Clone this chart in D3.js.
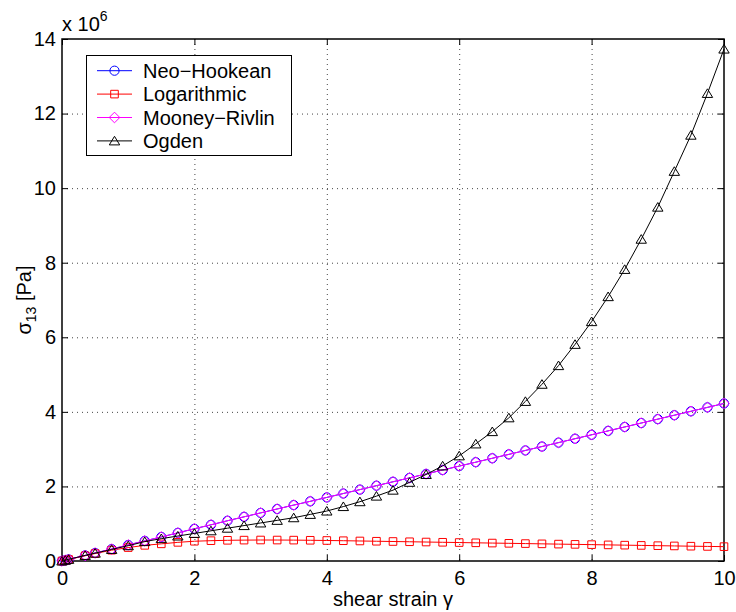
<!DOCTYPE html>
<html>
<head>
<meta charset="utf-8">
<script src="https://cdn.jsdelivr.net/npm/d3@7"></script>
<style>
  body { margin: 0; background: #fff; }
  text { font-family: "Liberation Sans", Arial, Helvetica, sans-serif; }
</style>
</head>
<body>
<svg id="chart" width="736" height="612"></svg>
<script>
// shear strain gamma (x) and sigma_13 in units of 1e6 Pa
var strain = [0, 0.05, 0.1, 0.35, 0.5, 0.75, 1, 1.25, 1.5, 1.75, 2, 2.25, 2.5, 2.75, 3, 3.25, 3.5, 3.75,
  4, 4.25, 4.5, 4.75, 5, 5.25, 5.5, 5.75, 6, 6.25, 6.5, 6.75, 7, 7.25, 7.5, 7.75, 8, 8.25, 8.5, 8.75,
  9, 9.25, 9.5, 9.75, 10];
var neoHookean = [0, 0.02, 0.043, 0.15, 0.215, 0.32, 0.43, 0.54, 0.645, 0.755, 0.865, 0.97, 1.08, 1.185,
  1.29, 1.395, 1.5, 1.6, 1.705, 1.81, 1.915, 2.02, 2.125, 2.23, 2.335, 2.44, 2.545, 2.65, 2.755, 2.86,
  2.965, 3.07, 3.175, 3.28, 3.385, 3.49, 3.595, 3.7, 3.805, 3.91, 4.015, 4.12, 4.225];
var logarithmic = [0, 0.02, 0.04, 0.14, 0.2, 0.29, 0.36, 0.42, 0.46, 0.5, 0.53, 0.545, 0.555, 0.56,
  0.563, 0.562, 0.56, 0.556, 0.55, 0.544, 0.537, 0.53, 0.523, 0.516, 0.509, 0.502, 0.495, 0.488, 0.481,
  0.474, 0.467, 0.46, 0.453, 0.446, 0.439, 0.432, 0.425, 0.418, 0.411, 0.404, 0.397, 0.391, 0.385];
var mooneyRivlin = [0, 0.02, 0.043, 0.15, 0.215, 0.32, 0.43, 0.54, 0.645, 0.755, 0.865, 0.97, 1.08, 1.185,
  1.29, 1.395, 1.5, 1.6, 1.705, 1.81, 1.915, 2.02, 2.125, 2.23, 2.335, 2.44, 2.545, 2.65, 2.755, 2.86,
  2.965, 3.07, 3.175, 3.28, 3.385, 3.49, 3.595, 3.7, 3.805, 3.91, 4.015, 4.12, 4.225];
var ogden = [0, 0.02, 0.045, 0.15, 0.21, 0.31, 0.41, 0.52, 0.6, 0.67, 0.74, 0.81, 0.88, 0.95, 1.02,
  1.09, 1.16, 1.25, 1.34, 1.46, 1.59, 1.74, 1.9, 2.11, 2.32, 2.55, 2.82, 3.14, 3.47, 3.84, 4.28, 4.74,
  5.24, 5.81, 6.42, 7.09, 7.82, 8.63, 9.49, 10.45, 11.42, 12.54, 13.73];

var xTicks = [0, 2, 4, 6, 8, 10];
var yTicks = [0, 2, 4, 6, 8, 10, 12, 14];

var series = [
  { name: 'Neo\u2212Hookean', values: neoHookean, color: '#0000ff', marker: 'circle' },
  { name: 'Logarithmic', values: logarithmic, color: '#ff0000', marker: 'square' },
  { name: 'Mooney\u2212Rivlin', values: mooneyRivlin, color: '#ff00ff', marker: 'diamond' },
  { name: 'Ogden', values: ogden, color: '#000000', marker: 'triangle' }
];

var svg = d3.select('#chart');
var fontSize = 20;

var x = d3.scaleLinear().domain([0, 10]).range([62, 724]);
var y = d3.scaleLinear().domain([0, 14]).range([561, 39]);

// marker outlines, centred on 0,0
function markerPath(type) {
  var p = d3.path();
  if (type === 'circle') {
    p.arc(0, 0, 4.6, 0, 2 * Math.PI);
  } else if (type === 'square') {
    p.rect(-3.8, -3.8, 7.6, 7.6);
  } else if (type === 'diamond') {
    p.moveTo(0, -5.3); p.lineTo(5.3, 0); p.lineTo(0, 5.3); p.lineTo(-5.3, 0); p.closePath();
  } else {
    p.moveTo(0, -4.6); p.lineTo(5.2, 4); p.lineTo(-5.2, 4); p.closePath();
  }
  return p.toString();
}

// Grid
var grid = svg.append('g').attr('class', 'grid')
  .attr('stroke', '#444').attr('stroke-width', 1).attr('stroke-dasharray', '1,4');

grid.selectAll('line.gx')
  .data(xTicks.slice(1, -1))
  .enter().append('line')
  .attr('x1', function (d) { return x(d) + 0.5; })
  .attr('x2', function (d) { return x(d) + 0.5; })
  .attr('y1', y(14)).attr('y2', y(0));

grid.selectAll('line.gy')
  .data(yTicks.slice(1, -1))
  .enter().append('line')
  .attr('y1', function (d) { return y(d) + 0.5; })
  .attr('y2', function (d) { return y(d) + 0.5; })
  .attr('x1', x(0)).attr('x2', x(10));

// Axes (ticks inside, box on)
function styleAxis(g) {
  g.select('.domain').remove();
  g.selectAll('.tick line').attr('stroke', '#000');
  g.selectAll('.tick text')
    .attr('fill', '#000')
    .style('font-size', fontSize + 'px')
    .style('font-family', '"Liberation Sans", Arial, sans-serif');
}

svg.append('g')
  .attr('transform', 'translate(0,' + y(0) + ')')
  .call(d3.axisBottom(x).tickValues(xTicks).tickSizeInner(-6).tickSizeOuter(0).tickPadding(10))
  .call(styleAxis);

svg.append('g')
  .attr('transform', 'translate(0,' + y(14) + ')')
  .call(d3.axisTop(x).tickValues(xTicks).tickSizeInner(-6).tickSizeOuter(0).tickFormat(''))
  .call(styleAxis);

svg.append('g')
  .attr('transform', 'translate(' + x(0) + ',0)')
  .call(d3.axisLeft(y).tickValues(yTicks).tickSizeInner(-6).tickSizeOuter(0).tickPadding(6))
  .call(styleAxis);

svg.append('g')
  .attr('transform', 'translate(' + x(10) + ',0)')
  .call(d3.axisRight(y).tickValues(yTicks).tickSizeInner(-6).tickSizeOuter(0).tickFormat(''))
  .call(styleAxis);

svg.append('rect')
  .attr('x', x(0)).attr('y', y(14))
  .attr('width', x(10) - x(0)).attr('height', y(0) - y(14))
  .attr('fill', 'none').attr('stroke', '#000').attr('stroke-width', 1.5);

// Series
var line = d3.line()
  .x(function (d) { return x(d.x); })
  .y(function (d) { return y(d.y); });

series.forEach(function (s) {
  var pts = strain.map(function (v, i) { return { x: v, y: s.values[i] }; });
  var g = svg.append('g').attr('class', 'series');
  g.append('path')
    .datum(pts)
    .attr('d', line)
    .attr('fill', 'none')
    .attr('stroke', s.color)
    .attr('stroke-width', 1);
  g.selectAll('path.mk')
    .data(pts)
    .enter().append('path')
    .attr('class', 'mk')
    .attr('d', markerPath(s.marker))
    .attr('transform', function (d) { return 'translate(' + x(d.x) + ',' + y(d.y) + ')'; })
    .attr('fill', 'none')
    .attr('stroke', s.color)
    .attr('stroke-width', 1);
});

// Exponent label
var expo = svg.append('text')
  .attr('x', 62).attr('y', 31)
  .style('font-size', fontSize + 'px');
expo.append('tspan').text('x 10');
expo.append('tspan').attr('dy', -10).style('font-size', '14px').text('6');

// Axis labels
svg.append('text')
  .attr('x', (x(0) + x(10)) / 2).attr('y', 606)
  .attr('text-anchor', 'middle')
  .style('font-size', fontSize + 'px')
  .text('shear strain \u03b3');

var yl = svg.append('text')
  .attr('transform', 'translate(31,' + (y(0) + y(14)) / 2 + ') rotate(-90)')
  .attr('text-anchor', 'middle')
  .style('font-size', fontSize + 'px');
yl.append('tspan').text('\u03c3');
yl.append('tspan').attr('dy', 5).style('font-size', '14px').text('13');
yl.append('tspan').attr('dy', -5).text(' [Pa]');

// Legend
var legend = svg.append('g').attr('class', 'legend');
legend.append('rect')
  .attr('x', 86.5).attr('y', 55.5).attr('width', 205).attr('height', 100)
  .attr('fill', '#fff').attr('stroke', '#000').attr('stroke-width', 1);

var items = legend.selectAll('g.item')
  .data(series)
  .enter().append('g')
  .attr('class', 'item')
  .attr('transform', function (d, i) { return 'translate(0,' + (70.7 + i * 23.4) + ')'; });

items.append('line')
  .attr('x1', 97).attr('x2', 132).attr('y1', 0).attr('y2', 0)
  .attr('stroke', function (d) { return d.color; }).attr('stroke-width', 1);
items.append('path')
  .attr('d', function (d) { return markerPath(d.marker); })
  .attr('transform', 'translate(114.5,0)')
  .attr('fill', 'none')
  .attr('stroke', function (d) { return d.color; });
items.append('text')
  .attr('x', 143).attr('y', 7)
  .style('font-size', fontSize + 'px')
  .text(function (d) { return d.name; });
</script>
</body>
</html>
